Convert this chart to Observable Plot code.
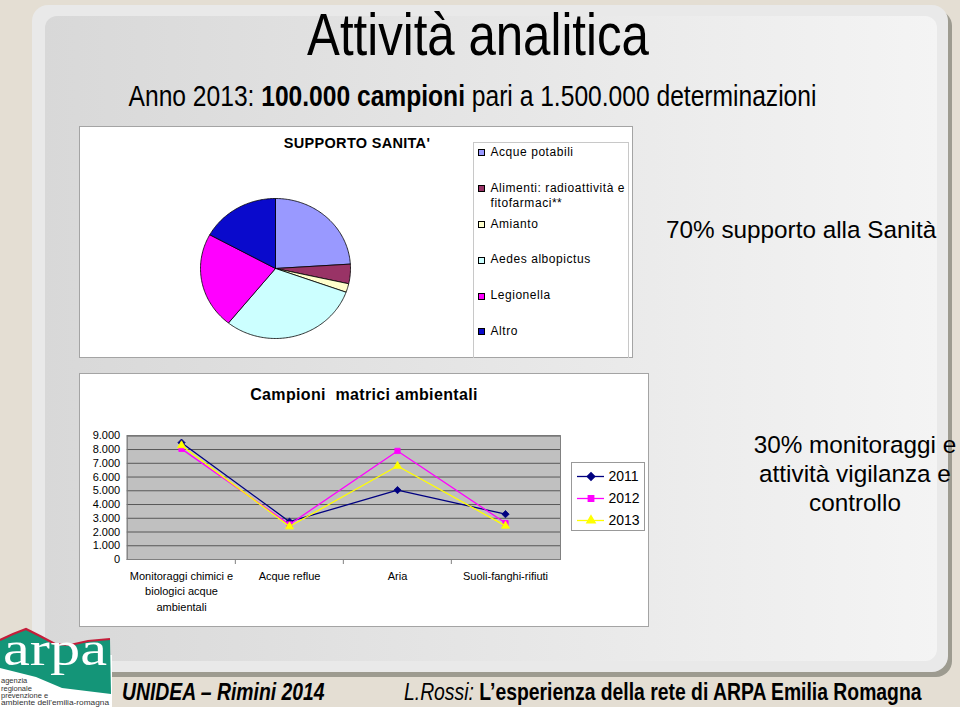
<!DOCTYPE html>
<html><head><meta charset="utf-8">
<script src="https://cdn.jsdelivr.net/npm/d3@7"></script>
<script src="https://cdn.jsdelivr.net/npm/@observablehq/plot@0.6"></script>
<style>
html,body{margin:0;padding:0;}
body{width:960px;height:707px;position:relative;overflow:hidden;background:#E4DED3;font-family:"Liberation Sans",Arial,sans-serif;color:#000;}
.abs{position:absolute;}
#panel{left:32px;top:5px;width:916px;height:667px;border-radius:16px;background:#E9E9E9;box-shadow:4px 5px 0 #9D9B90;}
#inner{left:45px;top:16px;width:892px;height:645px;border-radius:12px;background:linear-gradient(to right,#D8D8D8,#F4F4F4);}
.narrow{font-family:"Liberation Sans Narrow","Arial Narrow",sans-serif;white-space:nowrap;}
.box{background:#fff;border:1px solid #A4A4A4;box-sizing:border-box;}
.leg{font-size:12px;letter-spacing:0.55px;line-height:15.5px;}
.sw{width:7px;height:7px;border:1px solid #000;box-sizing:border-box;}
.big{font-size:24.3px;line-height:29px;}
</style>
</head><body>
<div id="panel" class="abs"></div>
<div id="inner" class="abs"></div>

<div class="abs narrow" data-o="center" style="left:0;width:956px;top:5px;text-align:center;font-size:60px;line-height:60px;">Attività analitica</div>
<div class="abs narrow" data-o="center" style="left:0;width:945px;top:81px;text-align:center;font-size:30px;line-height:30px;">Anno 2013: <b>100.000 campioni</b> pari a 1.500.000 determinazioni</div>

<div class="abs box" style="left:79px;top:126px;width:554px;height:232px;"></div>
<div class="abs" style="left:237px;width:240px;top:136px;text-align:center;font-weight:bold;font-size:14.5px;line-height:15px;letter-spacing:0.3px;">SUPPORTO SANITA'</div>
<div id="pie" class="abs" style="left:198px;top:195.5px;"></div>
<div class="abs" style="left:473px;top:142px;width:156px;height:216px;border:1px solid #C8C8C8;border-bottom:none;box-sizing:border-box;"></div>
<div id="pieLegend"></div>

<div class="abs box" style="left:79px;top:373px;width:570px;height:254px;"></div>
<div class="abs" style="left:79px;width:570px;top:387px;text-align:center;font-weight:bold;font-size:16px;line-height:16px;letter-spacing:0.35px;">Campioni&nbsp; matrici ambientali</div>
<div id="line" class="abs" style="left:79px;top:420px;"></div>
<div class="abs box" style="left:571px;top:462px;width:74px;height:69px;border-color:#999;"></div>
<div id="lineLegend" class="abs" style="left:571px;top:462px;"></div>

<div class="abs big" style="left:666px;top:215px;white-space:nowrap;">70% supporto alla Sanità</div>
<div class="abs big" style="left:745px;width:220px;top:430px;text-align:center;">30% monitoraggi e<br>attività vigilanza e<br>controllo</div>

<svg class="abs" style="left:0;top:616px;" width="114" height="91" viewBox="0 616 114 91">
  <rect x="0" y="655" width="112" height="52" fill="#fff"/>
  <polygon points="0,640 13,634 26,629 40,636 55,644 70,645 88,641 110,639 111,694 62,688 36,677 0,668" fill="#149578"/>
  <polyline points="0,640 13,634 26,629 40,636 55,644 70,645 88,641 110,639" fill="none" stroke="#C41E3A" stroke-width="2.2"/>
  <text x="3" y="665" fill="#fff" font-family="Liberation Serif, serif" font-size="48" textLength="104" lengthAdjust="spacingAndGlyphs">arpa</text>
  <g font-family="Liberation Sans, sans-serif" font-size="7.5" fill="#333">
    <text x="1" y="683">agenzia</text>
    <text x="1" y="690.5">regionale</text>
    <text x="1" y="698">prevenzione e</text>
    <text x="1" y="705.3" textLength="108" lengthAdjust="spacingAndGlyphs">ambiente dell'emilia-romagna</text>
  </g>
</svg>

<div class="abs narrow" data-o="left" style="left:122px;top:681px;font-size:23.6px;line-height:23.6px;font-weight:bold;font-style:italic;">UNIDEA – Rimini 2014</div>
<div class="abs narrow" data-o="left" style="left:404px;top:681px;font-size:23.6px;line-height:23.6px;"><i>L.Rossi:</i> <b>L’esperienza della rete di ARPA Emilia Romagna</b></div>

<script>
// ---------- data ----------
const pieCats = ["Acque potabili", "Alimenti: radioattività e fitofarmaci**", "Amianto", "Aedes albopictus", "Legionella", "Altro"];
const pieLegendLabels = ["Acque potabili", "Alimenti: radioattività e<br>fitofarmaci**", "Amianto", "Aedes albopictus", "Legionella", "Altro"];
const pieValues = [24, 4.5, 2, 30.3, 22.2, 17];
const pieColors = ["#9999FF", "#993366", "#FFFFCC", "#CCFFFF", "#FF00FF", "#0A0ACC"];

const categories = ["Monitoraggi chimici e biologici acque ambientali", "Acque reflue", "Aria", "Suoli-fanghi-rifiuti"];
const categoryLabels = ["Monitoraggi chimici e\nbiologici acque\nambientali", "Acque reflue", "Aria", "Suoli-fanghi-rifiuti"];
const years = ["2011", "2012", "2013"];
const values2011 = [8500, 2750, 5050, 3300];
const values2012 = [8050, 2550, 7900, 2650];
const values2013 = [8300, 2400, 6800, 2450];
const yTicks = [0, 1000, 2000, 3000, 4000, 5000, 6000, 7000, 8000, 9000];
const yearColors = ["#000080", "#FF00FF", "#FFFF00"];
const yearSymbols = ["diamond2", "square", "triangle"];

// ---------- narrow font fallback ----------
function hasFont(name){
  const c = document.createElement("canvas").getContext("2d");
  const t = "Attività analitica mmmwwwiii 0123";
  c.font = "40px monospace"; const a = c.measureText(t).width;
  c.font = `40px "${name}", monospace`; const b = c.measureText(t).width;
  return a !== b;
}
if (!hasFont("Liberation Sans Narrow") && !hasFont("Arial Narrow")) {
  document.querySelectorAll(".narrow").forEach(el => {
    el.style.fontFamily = '"Liberation Sans", Arial, sans-serif';
    el.style.transform = "scaleX(0.82)";
    el.style.transformOrigin = el.dataset.o === "left" ? "left center" : "center center";
  });
}

const font = '"Liberation Sans", Arial, sans-serif';

// ---------- pie ----------
const arcs = d3.pie().sort(null).value(d => d)(pieValues);
const piePts = [];
arcs.forEach((a, i) => {
  const cat = pieCats[i];
  piePts.push({cat, x: 0, y: 0});
  const n = Math.max(2, Math.ceil((a.endAngle - a.startAngle) / 0.02));
  for (let k = 0; k <= n; k++) {
    const t = a.startAngle + (a.endAngle - a.startAngle) * k / n;
    piePts.push({cat, x: Math.sin(t), y: Math.cos(t)});
  }
  piePts.push({cat, x: 0, y: 0});
});
document.getElementById("pie").append(Plot.plot({
  width: 154, height: 144, margin: 2,
  style: {background: "transparent", overflow: "visible"},
  x: {domain: [-1, 1], axis: null},
  y: {domain: [-1, 1], axis: null},
  color: {domain: pieCats, range: pieColors},
  marks: [
    Plot.line(piePts, {x: "x", y: "y", z: "cat", fill: "cat", stroke: "#000", strokeWidth: 0.8, strokeLinejoin: "round"})
  ]
}));

// pie legend (HTML)
const legTops = [152.3, 188.3, 224.3, 260, 296, 331.7];
const pl = document.getElementById("pieLegend");
pieCats.forEach((c, i) => {
  const sw = document.createElement("div");
  sw.className = "abs sw";
  sw.style.left = "477.5px"; sw.style.top = (legTops[i] - 3.5) + "px";
  sw.style.background = pieColors[i];
  pl.append(sw);
  const tx = document.createElement("div");
  tx.className = "abs leg";
  tx.style.left = "490.5px"; tx.style.top = (legTops[i] - 7.75) + "px";
  tx.innerHTML = pieLegendLabels[i];
  pl.append(tx);
});

// ---------- line chart ----------
const seriesValues = [values2011, values2012, values2013];
const rows = [];
years.forEach((yr, j) => categories.forEach((c, i) => rows.push({cat: c, year: yr, value: seriesValues[j][i]})));
const itFmt = d3.formatLocale({decimal: ",", thousands: ".", grouping: [3], currency: ["€", ""]}).format(",d");
const W = 570, ML = 47.7, MR = 89;
const bw = (W - ML - MR) / categories.length;
const labelOf = d => categoryLabels[categories.indexOf(d)];

const seriesMarks = years.flatMap((yr, j) => {
  const data = rows.filter(r => r.year === yr);
  return [
    Plot.line(data, {x: "cat", y: "value", stroke: yearColors[j], strokeWidth: 1.3}),
    Plot.dot(data, {x: "cat", y: "value", symbol: yearSymbols[j], r: j === 0 ? 3.3 : 3, fill: yearColors[j], stroke: yearColors[j], strokeWidth: 0.8})
  ];
});

document.getElementById("line").append(Plot.plot({
  width: W, height: 200, marginLeft: ML, marginRight: MR, marginTop: 15.3, marginBottom: 61,
  style: {fontFamily: font, fontSize: "11px", color: "#000", background: "transparent", overflow: "visible"},
  x: {type: "band", domain: categories, padding: 0},
  y: {domain: [0, 9000]},
  marks: [
    Plot.frame({fill: "#C0C0C0", stroke: "#808080"}),
    Plot.gridY(yTicks, {stroke: "#000", strokeOpacity: 0.55, strokeWidth: 1}),
    Plot.frame({stroke: "#808080"}),
    Plot.ruleX(categories.slice(1), {x: d => d, y1: 0, y2: 0, insetBottom: -5, dx: -bw / 2, stroke: "#808080"}),
    Plot.axisY(yTicks, {tickSize: 0, tickPadding: 7, tickFormat: itFmt, fontSize: 11, label: null}),
    Plot.axisX(categories, {tickSize: 0, tickPadding: 9, tickFormat: labelOf, lineHeight: 1.42, fontSize: 11, label: null}),
    ...seriesMarks
  ]
}));

// line legend
document.getElementById("lineLegend").append(Plot.plot({
  width: 74, height: 69, marginLeft: 6, marginRight: 41, marginTop: 2, marginBottom: 0,
  style: {fontFamily: font, fontSize: "14px", color: "#000", background: "transparent", overflow: "visible"},
  x: {domain: [0, 1], axis: null},
  y: {type: "point", domain: years, padding: 0.5, axis: null},
  marks: [
    Plot.ruleY(years, {y: d => d, x1: 0, x2: 1, stroke: (d, i) => yearColors[i], strokeWidth: 1.3}),
    ...years.map((yr, j) => Plot.dot([yr], {y: d => d, x: 0.5, symbol: yearSymbols[j], r: j === 0 ? 3.3 : 3, fill: yearColors[j], stroke: yearColors[j]})),
    Plot.text(years, {y: d => d, x: 1, text: d => d, dx: 4, textAnchor: "start", fontSize: 14})
  ]
}));
</script>
</body></html>
